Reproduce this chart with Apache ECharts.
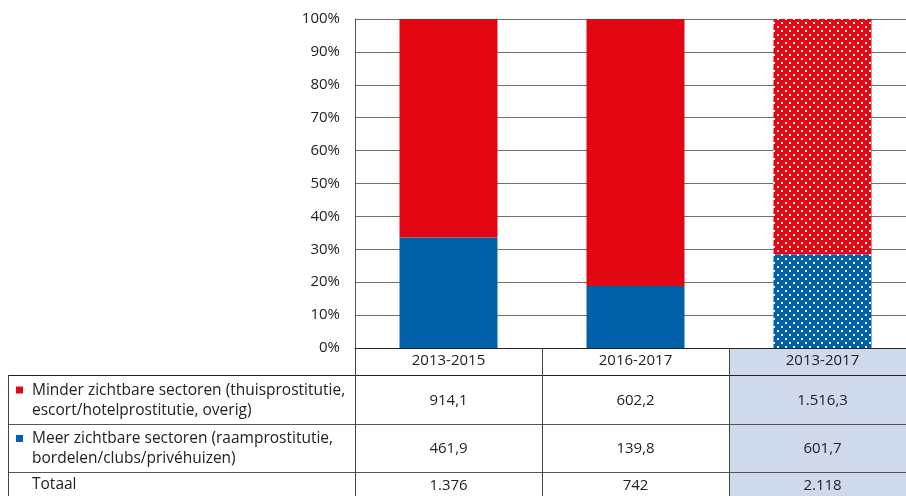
<!DOCTYPE html>
<html>
<head>
<meta charset="utf-8">
<script src="https://cdn.jsdelivr.net/npm/echarts@6/dist/echarts.min.js"></script>
<style>
  html, body { margin: 0; padding: 0; background: #fff; }
  #chart { width: 906px; height: 496px; }
</style>
</head>
<body>
<div id="chart"></div>
<script>
// Periods (x categories / table columns)
const periods = ['2013-2015', '2016-2017', '2013-2017'];
// Absolute numbers per sector, as in the table
const minderValues = [914.1, 602.2, 1516.3];
const meerValues = [461.9, 139.8, 601.7];
const totalValues = [1376, 742, 2118];
const minderLabels = ['914,1', '602,2', '1.516,3'];
const meerLabels = ['461,9', '139,8', '601,7'];
const totalLabels = ['1.376', '742', '2.118'];
const rowNames = [
  ['Minder zichtbare sectoren (thuisprostitutie,', 'escort/hotelprostitutie, overig)'],
  ['Meer zichtbare sectoren (raamprostitutie,', 'bordelen/clubs/privéhuizen)'],
  ['Totaal']
];

const RED = '#e30613';
const BLUE = '#0061a8';
const FONT = '"Open Sans", "Noto Sans", sans-serif';

// Grid placement (the last column runs past the right edge)
const GRID_LEFT = 355, GRID_TOP = 19, GRID_BOTTOM_Y = 348;
const COL_W = 187;
const TABLE_LEFT = 8, W = 906;
const rowLines = [375, 424, 472, 520];

// Dotted fill for the combined period
function dotPattern(color) {
  const c = document.createElement('canvas');
  c.width = 8; c.height = 8;
  const ctx = c.getContext('2d');
  ctx.fillStyle = color;
  ctx.fillRect(0, 0, 8, 8);
  ctx.fillStyle = 'rgba(255,255,255,0.95)';
  ctx.fillRect(1, 2, 2, 2);
  ctx.fillRect(5, 6, 2, 2);
  return { image: c, repeat: 'repeat' };
}

function shares(values) {
  return values.map((v, i) => ({
    value: +(v / totalValues[i] * 100).toFixed(2),
    itemStyle: i === 2 ? { color: dotPattern(values === minderValues ? RED : BLUE) } : undefined
  }));
}

const chart = echarts.init(document.getElementById('chart'));

function buildTable() {
  const els = [];
  const colX = i => GRID_LEFT + COL_W * i;
  const line = (x1, y1, x2, y2, color) => ({
    type: 'line', shape: { x1, y1, x2, y2 },
    style: { stroke: color || '#555', lineWidth: 1 }, z: 10
  });
  const text = (x, y, t, align, size) => ({
    type: 'text', x, y, z: 11,
    style: { text: t, fill: '#222', font: (size || 15) + 'px ' + FONT, align: align || 'center', verticalAlign: 'middle' }
  });

  // highlighted column background
  els.push({
    type: 'rect', z: -1,
    shape: { x: colX(2), y: GRID_BOTTOM_Y, width: W - colX(2), height: 496 - GRID_BOTTOM_Y },
    style: { fill: '#cfd9ec' }
  });

  // horizontal lines
  rowLines.forEach((y, i) => els.push(line(TABLE_LEFT, y + 0.5, W, y + 0.5, i === 0 ? '#222' : '#555')));
  // vertical lines
  els.push(line(TABLE_LEFT + 0.5, rowLines[0], TABLE_LEFT + 0.5, 496, '#444'));
  [0, 1, 2].forEach(i => els.push(line(colX(i) + 0.5, GRID_BOTTOM_Y, colX(i) + 0.5, 496, '#444')));

  // row labels
  const rowsData = [minderLabels, meerLabels, totalLabels];
  const squares = [RED, BLUE, null];
  rowsData.forEach((labels, r) => {
    const top = rowLines[r];
    const names = rowNames[r];
    const mid = names.length === 2 ? (top + rowLines[r + 1]) / 2 : top + 13;
    if (names.length === 2) {
      els.push(text(32, mid - 9, names[0], 'left', 15.5));
      els.push(text(32, mid + 11, names[1], 'left', 15.5));
      els.push({ type: 'rect', z: 11, shape: { x: 16, y: mid - 13, width: 7, height: 7 }, style: { fill: squares[r] } });
    } else {
      els.push(text(32, mid, names[0], 'left', 15.5));
    }
    labels.forEach((lab, i) => els.push(text(colX(i) + COL_W / 2, mid + 1, lab)));
  });
  return els;
}

chart.setOption({
  animation: false,
  textStyle: { fontFamily: FONT },
  grid: {
    left: GRID_LEFT, width: COL_W * periods.length,
    top: GRID_TOP, bottom: 496 - GRID_BOTTOM_Y,
    containLabel: false, outerBoundsMode: 'none'
  },
  xAxis: {
    type: 'category',
    data: periods,
    axisTick: { show: false },
    axisLine: { lineStyle: { color: '#222', width: 1 } },
    axisLabel: { color: '#222', fontSize: 15, margin: 5 }
  },
  yAxis: {
    type: 'value', min: 0, max: 100, interval: 10,
    axisLine: { show: true, lineStyle: { color: '#555', width: 1 } },
    axisTick: { show: false },
    splitLine: { lineStyle: { color: '#6f6f6f', width: 1.2 } },
    axisLabel: { formatter: '{value}%', color: '#222', fontSize: 15, margin: 15 }
  },
  series: [
    {
      name: 'Meer zichtbare sectoren', type: 'bar', stack: 'total',
      barWidth: 98, itemStyle: { color: BLUE }, data: shares(meerValues)
    },
    {
      name: 'Minder zichtbare sectoren', type: 'bar', stack: 'total',
      barWidth: 98, itemStyle: { color: RED }, data: shares(minderValues)
    }
  ],
  graphic: buildTable()
});
</script>
</body>
</html>
